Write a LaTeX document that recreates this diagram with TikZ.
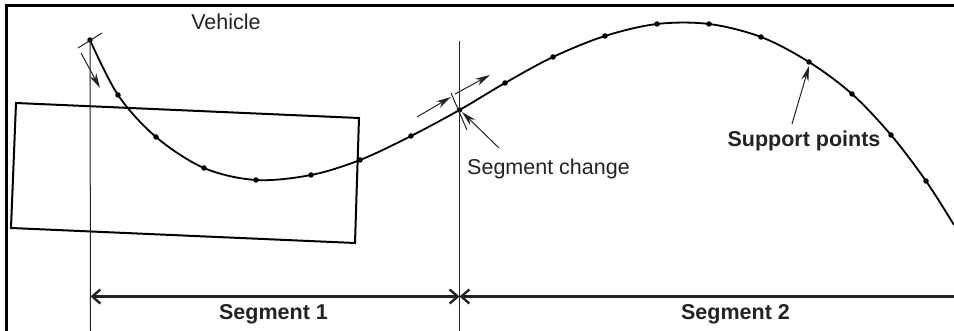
\documentclass[tikz,border=0pt]{standalone}
\usepackage{fontspec}
\setmainfont{Liberation Sans}
\usetikzlibrary{arrows.meta}
\definecolor{ink}{RGB}{35,35,35}
\tikzset{
  px/.style={x=1pt,y=-1pt},
  frameline/.style={line width=2.2pt,black},
  thin line/.style={line width=1pt,ink},
  curve line/.style={line width=1.8pt,black},
  vehicle box/.style={line width=2pt,black},
  sup dot/.style={circle,fill=black,inner sep=0pt,minimum size=5.5pt},
  lead/.style={line width=1pt,ink,-{Stealth[length=15pt,width=7.5pt]}},
  barb/.tip={Straight Barb[length=8pt,width=14pt,line width=2.4pt]},
  dim/.style={line width=2.2pt,ink},
  lab/.style={font=\fontsize{21.5}{24}\selectfont,text=ink,inner sep=0pt},
  blab/.style={lab,font=\fontsize{21.5}{24}\selectfont\bfseries},
}
\begin{document}
\begin{tikzpicture}[px]
\useasboundingbox (0,0) rectangle (954,331);
\draw[frameline] (954,5.5) -- (6.5,5.5) -- (6.5,331);
% vehicle
\draw[vehicle box] (16,103) -- (359,118) -- (355,243) -- (11,228) -- cycle;
% support points
\foreach \n/\p in {a/{90,40},b/{118,95},c/{156,137},d/{204,168},e/{256,180},f/{311,175},g/{360,160},h/{411,136},i/{459.5,110},j/{505,83},k/{553,57},l/{605,36},m/{657,24},n/{709,24},o/{761,37},p/{809,62},q/{852,94},r/{891,135},s/{926,181}}
  \node[sup dot] (\n) at (\p) {};
\coordinate (endp) at (954,225);
\draw[curve line] plot[smooth,tension=0.55] coordinates {(a.center)(b.center)(c.center)(d.center)(e.center)(f.center)(g.center)(h.center)(i.center)(j.center)(k.center)(l.center)(m.center)(n.center)(o.center)(p.center)(q.center)(r.center)(s.center)(endp)};
% verticals
\coordinate (v1b) at (90.5,331);
\coordinate (v2t) at (459.5,41);
\coordinate (v2b) at (459.5,331);
\draw[thin line] (a.center) -- (v1b);
\draw[thin line] (v2t) -- (v2b);
% ticks
\coordinate (t1a) at (78,48); \coordinate (t1b) at (102,33);
\coordinate (t2a) at (451,93); \coordinate (t2b) at (467,130);
\draw[thin line] (t1a) -- (t1b);
\draw[thin line] (t2a) -- (t2b);
% direction arrows
\coordinate (d1a) at (81,53); \coordinate (d1b) at (100,88);
\coordinate (d2a) at (417,117); \coordinate (d2b) at (451,97);
\coordinate (d3a) at (455,94); \coordinate (d3b) at (490,75);
\draw[lead] (d1a) -- (d1b);
\draw[lead] (d2a) -- (d2b);
\draw[lead] (d3a) -- (d3b);
% labels
\node[lab,anchor=center] (veh) at (226,21.5) {Vehicle};
\node[lab,anchor=center] (chg) at (548.5,168.5) {Segment change};
\node[blab,anchor=center] (sup) at (804,141) {Support points};
\node[blab,anchor=center] (s1) at (273.5,314) {Segment 1};
\node[blab,anchor=center] (s2) at (735.5,314) {Segment 2};
% leaders
\coordinate (l1) at (499,148); \coordinate (l1e) at (462,112);
\coordinate (l2) at (792,124); \coordinate (l2e) at (809,66);
\draw[lead] (l1) -- (l1e);
\draw[lead] (l2) -- (l2e);
% dimensions
\coordinate (m1) at (90.5,296.5); \coordinate (m2) at (459.5,296.5); \coordinate (m3) at (954,296.5);
\draw[dim,barb-barb] (m1) -- (m2);
\draw[dim,barb-] (m2) -- (m3);
\end{tikzpicture}
\end{document}
